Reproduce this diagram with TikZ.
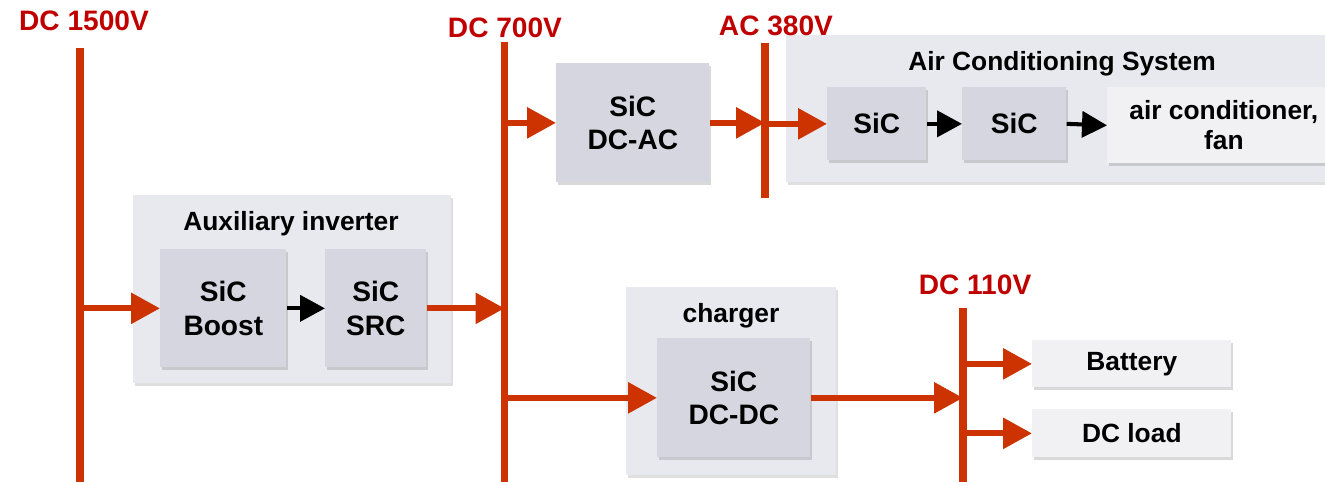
\documentclass[tikz,border=0pt]{standalone}
\usepackage{fontspec}
\setmainfont{Liberation Sans}
\usetikzlibrary{arrows.meta, shadows, positioning}
\definecolor{busred}{HTML}{CC3300}
\definecolor{labelred}{HTML}{C00000}
\definecolor{groupfill}{HTML}{E8E9EE}
\definecolor{sicfill}{HTML}{D5D6DF}
\definecolor{loadfill}{HTML}{F1F1F3}
\tikzset{bus/.style={draw=busred,line width=4.4pt},
    buslabel/.style={text=labelred,font=\fontsize{16}{18}\selectfont\bfseries},
    grouptitle/.style={font=\fontsize{15}{17}\selectfont\bfseries},
    groupbox/.style={rectangle,fill=groupfill,anchor=north west,inner sep=0pt,
        drop shadow={shadow xshift=1.2pt,shadow yshift=-1.6pt,opacity=0.25}},
    sicbox/.style={rectangle,fill=sicfill,anchor=north west,align=center,
        font=\fontsize{16}{19}\selectfont\bfseries,
        drop shadow={shadow xshift=1.2pt,shadow yshift=-1.6pt,opacity=0.3}},
    loadbox/.style={sicbox,fill=loadfill,font=\fontsize{15}{17}\selectfont\bfseries},
    power/.style={draw=busred,line width=3.4pt,-{Triangle[length=0.58cm,width=0.6cm]}},
    signal/.style={draw=black,line width=2.3pt,-{Triangle[length=0.5cm,width=0.52cm]}}}

\begin{document}
\begin{tikzpicture}[x=0.02cm,y=-0.02cm]
  \clip (0,0) rectangle (1325,481);

  % Buses
  \coordinate (b1500) at (80,48);
  \coordinate (b700) at (504.5,42);
  \coordinate (b380) at (765,43);
  \coordinate (b110) at (963,308);
  \draw[bus] (b1500) -- (80,490);
  \draw[bus] (b700) -- (504.5,490);
  \draw[bus] (b380) -- (765,198);
  \draw[bus] (b110) -- (963,490);

  % Auxiliary inverter
  \node[groupbox, minimum width=6.36cm, minimum height=3.76cm] (aux) at (133,195) {};
  \node[grouptitle] (auxtitle) at (291,224) {Auxiliary inverter};
  \node[sicbox, minimum width=2.52cm, minimum height=2.36cm] (boost) at (160,249) {SiC\\Boost};
  \node[sicbox, minimum width=2.02cm, minimum height=2.36cm] (src) at (325,249) {SiC\\SRC};

  % DC-AC
  \node[sicbox, minimum width=3.06cm, minimum height=2.38cm] (dcac) at (556,63) {SiC\\DC-AC};

  % Air conditioning
  \node[groupbox, minimum width=11.08cm, minimum height=2.94cm] (acs) at (786,35) {};
  \node[grouptitle] (acstitle) at (1062,64) {Air Conditioning System};
  \node[sicbox, minimum width=1.98cm, minimum height=1.46cm] (sica) at (827,87) {SiC};
  \node[sicbox, minimum width=2.08cm, minimum height=1.46cm] (sicb) at (962,87) {SiC};
  \node[loadbox, minimum width=4.66cm, minimum height=1.52cm] (acfan) at (1107,87) {air conditioner,\\fan};

  % Charger
  \node[groupbox, minimum width=4.2cm, minimum height=3.76cm] (charger) at (626,287) {};
  \node[grouptitle] (chargertitle) at (731,316) {charger};
  \node[sicbox, minimum width=3.06cm, minimum height=2.38cm] (dcdc) at (657,338) {SiC\\DC-DC};

  % Loads
  \node[loadbox, minimum width=3.98cm, minimum height=0.94cm] (battery) at (1032,340) {Battery};
  \node[loadbox, minimum width=3.98cm, minimum height=0.96cm] (dcload) at (1032,409) {DC load};

  % Bus voltages
  \node[buslabel] (l1500) at (84,21) {DC 1500V};
  \node[buslabel] (l700) at (505,28) {DC 700V};
  \node[buslabel] (l380) at (776,26) {AC 380V};
  \node[buslabel] (l110) at (975,285) {DC 110V};

  % Power flow
  \draw[power] (b1500 |- boost.west) -- (boost.west);
  \draw[signal] (boost.east) -- (src.west);
  \draw[power] (src.east) -- (b700 |- src.east);
  \draw[power] (b700 |- dcac.west) -- (dcac.west);
  \draw[power] (dcac.east) -- (b380 |- dcac.east);
  \draw[power] (b380 |- sica.west) -- (sica.west);
  \draw[signal] (sica.east) -- (sicb.west);
  \draw[signal] (sicb.east) -- (acfan.west);
  \draw[power] (b700 |- dcdc.west) -- (dcdc.west);
  \draw[power] (dcdc.east) -- (b110 |- dcdc.east);
  \draw[power] (b110 |- battery.west) -- (battery.west);
  \draw[power] (b110 |- dcload.west) -- (dcload.west);
\end{tikzpicture}
\end{document}
